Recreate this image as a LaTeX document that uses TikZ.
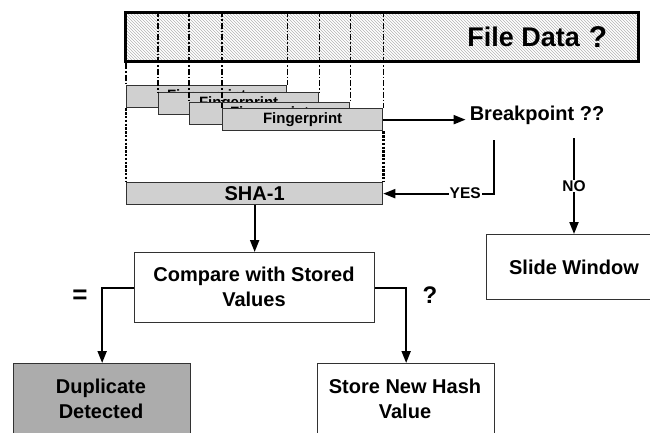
\documentclass[tikz,border=0pt]{standalone}
\usepackage{fontspec}
\setmainfont{Liberation Sans}
\usetikzlibrary{arrows.meta,patterns}
\definecolor{lightfill}{RGB}{208,208,208}
\definecolor{darkfill}{RGB}{172,172,172}
\definecolor{edge}{RGB}{50,50,50}
\begin{document}
\begin{tikzpicture}[x=1pt,y=-1pt,
  box/.style={draw=edge,line width=1.3pt,anchor=north west,inner sep=0pt},
  fpbox/.style={box,fill=lightfill,minimum width=160pt,minimum height=22pt,font=\bfseries\fontsize{15}{18}\selectfont},
  lbl/.style={font=\bfseries\fontsize{20}{25}\selectfont,align=center},
  small/.style={font=\bfseries\fontsize{15.5}{18}\selectfont,fill=white,inner sep=1pt},
  arr/.style={line width=2pt,-{Triangle[length=12pt,width=9pt]}},
  vdash/.style={line width=1.4pt,dash pattern=on 6pt off 2pt on 1.5pt off 2pt},
  vdot/.style={line width=2.6pt,dash pattern=on 2.4pt off 1.4pt}]
\useasboundingbox (0,0) rectangle (650,432);
\clip (0,0) rectangle (650,432);
% File data
\node[draw=black,line width=3pt,anchor=north west,minimum width=513pt,minimum height=49pt,inner sep=0pt,pattern=north west lines,pattern color=gray!60] (fdbox) at (124,11) {};
\node[font=\bfseries\fontsize{27}{32}\selectfont,anchor=east,inner sep=0pt] (fdtext) at (580,37) {File Data};
\node[font=\bfseries\fontsize{30}{34}\selectfont] (fdq) at (598,37) {?};
% fingerprint boxes
\node[fpbox] (fp1) at (126,85) {Fingerprint};
\node[fpbox] (fp2) at (158,92) {Fingerprint};
\node[fpbox] (fp3) at (189,102) {Fingerprint};
\node[fpbox] (fp4) at (222,108) {Fingerprint};
% vertical guides
\draw[vdash] (fdbox.south -| fp1.north west) -- (fp1.north west);
\draw[vdash] (fdbox.north -| fp2.north west) -- (fp2.north west);
\draw[vdash] (fdbox.north -| fp3.north west) -- (fp3.north west);
\draw[vdash] (fdbox.north -| fp4.north west) -- (fp4.north west);
\draw[vdash] (fdbox.north -| fp1.north east) -- (fp1.north east);
\draw[vdash] (fdbox.north -| fp2.north east) -- (fp2.north east);
\draw[vdash] (fdbox.north -| fp3.north east) -- (fp3.north east);
\draw[vdash] (fdbox.north -| fp4.north east) -- (fp4.north east);
% SHA-1
\node[box,fill=lightfill,minimum width=256pt,minimum height=22pt,font=\bfseries\fontsize{20}{24}\selectfont] (sha) at (126,182) {SHA-1};
\draw[vdot] (fp1.south west) -- (sha.north west);
\draw[vdot] (fp4.south east) -- (sha.north east);
% breakpoint
\node[font=\bfseries\fontsize{20}{24}\selectfont,inner sep=4pt] (bp) at (537,115) {Breakpoint ??};
\draw[arr] (fp4.east) -- (fp4.east -| bp.west);
\coordinate (yesstart) at (494,140);
\coordinate (nostart) at (574,138);
% compare
\node[box,minimum width=240pt,minimum height=70pt] (cmp) at (134,252) {};
\node[lbl] (cmptext) at (254,287) {Compare with Stored\\Values};
% slide window
\node[box,minimum width=200pt,minimum height=65pt] (slide) at (486,234) {};
\node[lbl] (slidetext) at (574,267) {Slide Window};
% result boxes
\node[box,fill=darkfill,minimum width=177pt,minimum height=100pt] (dup) at (13,363) {};
\node[lbl] (duptext) at (101,399) {Duplicate\\Detected};
\node[box,minimum width=177pt,minimum height=100pt] (store) at (317,363) {};
\node[lbl] (storetext) at (405,399) {Store New Hash\\Value};
% connectors
\draw[arr] (yesstart) |- (sha.east) node[small,pos=0.63] (yes) {YES};
\draw[arr] (nostart) -- (nostart |- slide.north) node[small,midway] (no) {NO};
\draw[arr] (sha.south) -- (cmp.north);
\draw[arr] (cmp.west) -| (dup.north);
\draw[arr] (cmp.east) -| (store.north);
\node[font=\bfseries\fontsize{26}{30}\selectfont] (eq) at (80,297) {=};
\node[font=\bfseries\fontsize{24}{28}\selectfont] (neq) at (430,295) {?};
\end{tikzpicture}
\end{document}
